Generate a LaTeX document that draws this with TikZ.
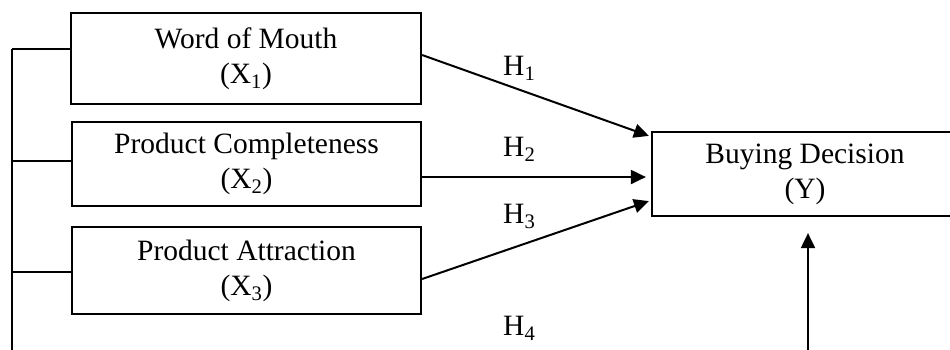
\documentclass[tikz,border=0pt]{standalone}
\usepackage{fontspec}
\setmainfont{Liberation Serif}
\usetikzlibrary{arrows.meta}
\begin{document}
\begin{tikzpicture}[x=1pt,y=-1pt,
  box/.style={draw,line width=2.2pt,align=center,inner sep=0pt,font=\fontsize{29.5}{35}\selectfont},
  hlab/.style={anchor=base west,inner sep=0pt,font=\fontsize{29.5}{35}\selectfont},
  conn/.style={line width=2pt},
  arr/.style={line width=2pt,-{Triangle[length=15pt,width=14pt]}}]
\useasboundingbox (0,0) rectangle (950,349);
\clip (0,0) rectangle (950,349);
\node[box,minimum width=350pt,minimum height=91pt] (b1) at (246,58.5) {Word of Mouth\\(X\textsubscript{1})};
\node[box,minimum width=349pt,minimum height=84pt] (b2) at (246.5,164) {Product Completeness\\(X\textsubscript{2})};
\node[box,minimum width=349pt,minimum height=87pt] (b3) at (246.5,270.5) {Product Attraction\\(X\textsubscript{3})};
\node[box,minimum width=306pt,minimum height=84pt] (y) at (805,174) {Buying Decision\\(Y)};
\node[hlab] (h1) at (503,75.5) {H\textsubscript{1}};
\node[hlab] (h2) at (503,156.5) {H\textsubscript{2}};
\node[hlab] (h3) at (503,223) {H\textsubscript{3}};
\node[hlab] (h4) at (503,335) {H\textsubscript{4}};
\coordinate (L1) at (12,49);
\coordinate (L2) at (12,161);
\coordinate (L3) at (12,272);
\coordinate (Lb) at (12,352);
\coordinate (Yb) at (808,352);
\draw[conn] (L1) -- (Lb);
\draw[conn] (L1) -- (L1 -| b1.west);
\draw[conn] (L2) -- (L2 -| b2.west);
\draw[conn] (L3) -- (L3 -| b3.west);
\draw[arr] ([yshift=3.5pt]b1.east) -- ([xshift=-2pt,yshift=-5pt]y.north west);
\draw[arr,shorten >=5pt] ([yshift=-13pt]b2.east) -- ([yshift=-13pt]b2.east -| y.west);
\draw[arr] ([yshift=-8.5pt]b3.east) -- ([xshift=-2pt,yshift=16pt]y.south west);
\draw[arr,shorten >=16pt] (Yb) -- (Yb |- y.south);
\end{tikzpicture}
\end{document}
